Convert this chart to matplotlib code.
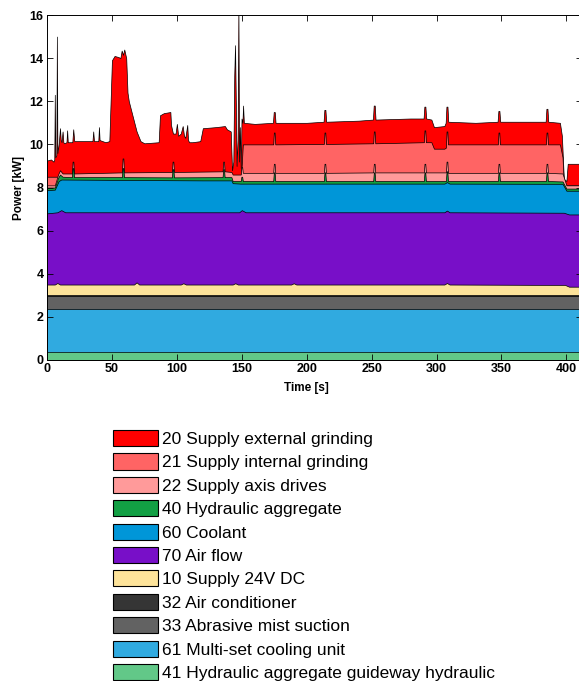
import numpy as np
import matplotlib.pyplot as plt
from matplotlib.patches import Patch

plt.rcParams['font.family'] = ['Liberation Sans', 'DejaVu Sans']

# --- Cumulative top of each stacked layer [kW] vs time [s] ---

# 20 Supply external grinding (top of the whole stack)
t20 = [0, 3, 5, 5.6, 6.0, 6.4, 7.2, 7.6, 8.0, 9, 10, 10.6, 11.2, 12, 12.6, 13.2,
       15, 15.5, 16, 19.5, 20.2, 21, 35, 35.6, 36.2, 39.5, 40, 40.5, 45, 48,
       50, 52, 55, 56.5, 57.5, 58.5, 59.5, 61, 62, 63, 66, 69, 72, 75,
       86, 87, 90, 95, 95.5, 97, 99, 100, 101, 103, 104.5, 105.5, 106.5, 108, 108.6, 109.5,
       112, 118, 120, 130, 137, 138.5, 141.5, 142.5, 143.5, 144.2, 144.8, 145.4, 146,
       146.8, 147.4, 147.9, 148.5, 149.2, 149.8, 150.5, 151, 151.6, 160,
       174, 174.6, 175.4, 176, 200, 213, 213.6, 214.4, 215, 240,
       251, 251.6, 252.4, 253, 280, 290, 290.6, 291.4, 292, 296, 298, 306,
       307, 307.6, 308.4, 309, 330, 347, 347.6, 348.4, 349, 370,
       384, 384.6, 385.4, 386, 395, 396.5, 398, 400, 401, 412]
y20 = [9.25, 9.3, 9.2, 9.3, 12.3, 9.4, 9.5, 15.0, 9.6, 10.0, 10.75, 10.2, 10.1, 10.6, 10.1, 10.05,
       10.1, 10.65, 10.1, 10.1, 10.7, 10.15, 10.15, 10.6, 10.15, 10.15, 10.8, 10.2, 10.1, 10.15,
       13.9, 14.1, 14.05, 14.0, 14.35, 14.15, 14.4, 14.0, 12.4, 12.0, 11.3, 10.6, 10.15, 10.05,
       10.1, 11.35, 11.45, 11.5, 10.9, 10.5, 10.5, 10.95, 10.4, 10.5, 10.85, 10.4, 10.3, 10.9, 10.2, 10.1,
       10.1, 10.15, 10.75, 10.8, 10.85, 10.7, 10.6, 8.8, 9.2, 13.2, 14.6, 12.0, 9.0,
       10.2, 16.5, 9.2, 10.8, 8.9, 11.2, 11.0, 11.8, 11.0, 10.95,
       11.0, 11.5, 11.5, 11.0, 11.0, 11.05, 11.6, 11.6, 11.05, 11.1,
       11.15, 11.8, 11.8, 11.15, 11.2, 11.2, 11.75, 11.75, 11.2, 11.15, 10.8, 10.85,
       11.0, 11.75, 11.75, 11.05, 11.0, 11.05, 11.55, 11.55, 11.05, 11.05,
       11.05, 11.65, 11.65, 11.05, 11.0, 10.4, 8.4, 8.3, 9.1, 9.1]

# 21 Supply internal grinding (only active after ~150 s)
t21 = [0, 149.5, 150.8,
       174.2, 174.7, 175.3, 175.8,
       213.2, 213.7, 214.3, 214.8,
       251.2, 251.7, 252.3, 252.8,
       290.2, 290.7, 291.3, 291.8,
       296, 298, 306,
       307.2, 307.7, 308.3, 308.8,
       347.2, 347.7, 348.3, 348.8,
       384.2, 384.7, 385.3, 385.8,
       395, 397, 398, 412]
y21 = [8.5, 8.5, 10.0,
       10.0, 10.55, 10.55, 10.0,
       10.02, 10.55, 10.55, 10.02,
       10.05, 10.6, 10.6, 10.05,
       10.1, 10.65, 10.65, 10.1,
       10.1, 9.8, 9.8,
       9.85, 10.6, 10.6, 10.0,
       10.0, 10.55, 10.55, 10.0,
       10.0, 10.55, 10.55, 10.0,
       10.0, 9.4, 8.1, 8.1]

# spike times shared by 22 and 40 (hydraulic / axis cycles)
t_cyc = [0, 6, 8.5, 10, 12,
         19.2, 19.7, 20.3, 20.8,
         57.7, 58.2, 58.8, 59.3,
         96.2, 96.7, 97.3, 97.8,
         135.2, 135.7, 136.3, 136.8,
         142, 143,
         149.2, 149.7, 150.3, 150.8,
         174.2, 174.7, 175.3, 175.8,
         213.2, 213.7, 214.3, 214.8,
         251.2, 251.7, 252.3, 252.8,
         290.2, 290.7, 291.3, 291.8,
         307.2, 307.7, 308.3, 308.8,
         347.2, 347.7, 348.3, 348.8,
         384.2, 384.7, 385.3, 385.8,
         397, 400, 412]

# 22 Supply axis drives
y22 = [8.1, 8.1, 8.6, 8.8, 8.65,
       8.65, 9.2, 9.2, 8.65,
       8.7, 9.35, 9.35, 8.7,
       8.72, 9.2, 9.2, 8.72,
       8.75, 9.2, 9.2, 8.75,
       8.72, 8.6,
       8.6, 8.95, 8.95, 8.68,
       8.68, 9.1, 9.1, 8.68,
       8.68, 9.1, 9.1, 8.68,
       8.7, 9.1, 9.1, 8.7,
       8.7, 9.1, 9.1, 8.7,
       8.7, 9.2, 9.2, 8.68,
       8.68, 9.1, 9.1, 8.68,
       8.68, 9.1, 9.1, 8.68,
       8.65, 8.1, 8.1]

# 40 Hydraulic aggregate
y40 = [8.0, 8.0, 8.45, 8.6, 8.5,
       8.48, 8.9, 8.9, 8.48,
       8.48, 8.9, 8.9, 8.48,
       8.47, 8.85, 8.85, 8.47,
       8.48, 8.85, 8.85, 8.48,
       8.48, 8.3,
       8.3, 8.5, 8.5, 8.3,
       8.3, 8.7, 8.7, 8.3,
       8.3, 8.7, 8.7, 8.3,
       8.3, 8.7, 8.7, 8.3,
       8.3, 8.7, 8.7, 8.3,
       8.3, 8.75, 8.75, 8.3,
       8.3, 8.7, 8.7, 8.3,
       8.3, 8.7, 8.7, 8.3,
       8.28, 7.95, 7.95]

# 60 Coolant
t60 = [0, 6, 9, 11, 60, 120, 142, 143, 149, 151, 306, 308, 310, 397, 400, 412]
y60 = [7.88, 7.9, 8.3, 8.37, 8.35, 8.33, 8.33, 8.2, 8.18, 8.18, 8.18, 8.25, 8.18, 8.17, 7.85, 7.85]

# 70 Air flow
t70 = [0, 8, 11, 14, 148, 150, 153, 306, 308, 310, 398, 402, 412]
y70 = [6.8, 6.85, 6.95, 6.85, 6.85, 6.95, 6.85, 6.85, 6.93, 6.85, 6.83, 6.75, 6.75]

# 10 Supply 24V DC
t10 = [0, 6, 8, 10, 67, 69, 71, 103, 105, 107, 143, 145, 147, 188, 190, 192,
       306, 308, 310, 399, 402, 412]
y10 = [3.5, 3.5, 3.57, 3.5, 3.5, 3.6, 3.5, 3.5, 3.56, 3.5, 3.5, 3.56, 3.5, 3.5, 3.56, 3.5,
       3.5, 3.57, 3.5, 3.48, 3.4, 3.4]

# constant base loads
t_flat = [0, 412]
y32 = [3.0, 3.0]
y33 = [2.95, 2.95]
y61 = [2.38, 2.38]
y41 = [0.37, 0.37]

labels = ['20 Supply external grinding', '21 Supply internal grinding',
          '22 Supply axis drives', '40 Hydraulic aggregate', '60 Coolant',
          '70 Air flow', '10 Supply 24V DC', '32 Air conditioner',
          '33 Abrasive mist suction', '61 Multi-set cooling unit',
          '41 Hydraulic aggregate guideway hydraulic']
colors = ['#ff0000', '#ff6464', '#ff9a9a', '#12a044', '#0096d8', '#780fc8',
          '#fde39a', '#353535', '#626262', '#30aae0', '#62c888']
tops = [(t20, y20), (t21, y21), (t_cyc, y22), (t_cyc, y40), (t60, y60),
        (t70, y70), (t10, y10), (t_flat, y32), (t_flat, y33),
        (t_flat, y61), (t_flat, y41)]

fig = plt.figure(figsize=(5.79, 6.81), dpi=100)
ax = fig.add_axes([47 / 579, 321 / 681, 535 / 579, 345 / 681])

# draw from the top layer down, each filled from zero, so lower layers cover higher ones
for (t, y), c in zip(tops, colors):
    ax.fill_between(t, 0, y, facecolor=c, edgecolor='k', linewidth=0.5)

ax.set_xlim(0, 412)
ax.set_ylim(0, 16)
ax.set_xticks(np.arange(0, 401, 50))
ax.set_yticks(np.arange(0, 17, 2))
ax.tick_params(direction='in', top=True, right=True, length=4, width=0.6,
               labelsize=9, pad=2.5)
for lab in ax.get_xticklabels() + ax.get_yticklabels():
    lab.set_fontweight('bold')
for s in ax.spines.values():
    s.set_linewidth(0.7)

ax.set_xlabel('Time [s]', fontsize=8.5, fontweight='bold')
ax.set_ylabel('Power [kW]', fontsize=8.5, fontweight='bold', labelpad=3)
ax.xaxis.set_label_coords((306 - 47) / 535, -0.063)

handles = [Patch(facecolor=c, edgecolor='k', linewidth=0.8) for c in colors]
fig.legend(handles, labels, loc='upper left', bbox_to_anchor=(113 / 579, 1 - 430 / 681),
           frameon=False, fontsize=12.5, handlelength=2.6, handleheight=1.05,
           handletextpad=0.25, labelspacing=0.37, borderpad=0, borderaxespad=0)

fig.savefig('out.png', dpi=100)
